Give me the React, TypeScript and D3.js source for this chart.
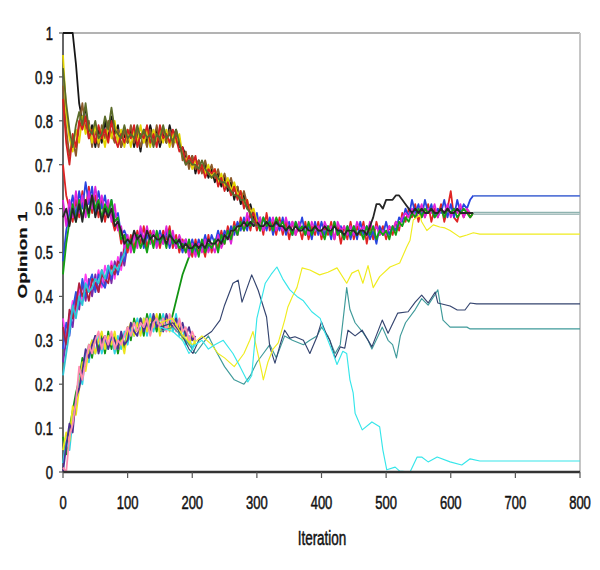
import React from 'react';
import * as d3 from 'd3';

// ---------- axis definitions ----------
const X_TICKS = [0, 100, 200, 300, 400, 500, 600, 700, 800];
const Y_TICKS = [0, 10, 20, 30, 40, 50, 60, 70, 80, 90, 100]; // opinion in percent
const Y_TICK_LABELS = ['0', '0.1', '0.2', '0.3', '0.4', '0.5', '0.6', '0.7', '0.8', '0.9', '1'];
const X_TITLE = 'Iteration';
const Y_TITLE = 'Opinion 1';
const STEP = 5; // iterations between samples in the bundle series

// ---------- top cluster (~0.77), iterations 0..300 ----------
const topT1 = [100,100,100,100,93,84,80,83,76,79,74,78,75,80,76,81,77,79,74,77,75,78,74,77,73,78,75,79,76,78,74,77,75,79,76,78,74,74,72,70,72,68,71,69,70,67,69,66,68,65,67,64,66,62,65,61,63,60,61,58,57];
const topT2 = [88,78,72,76,72,79,84,78,80,74,78,74,79,76,80,77,75,78,74,78,75,79,75,78,74,77,74,78,75,79,75,78,75,78,74,77,76,71,73,69,72,69,71,68,71,68,70,67,69,66,68,65,67,64,65,62,64,61,60,59,57];
const topT3 = [95,82,76,73,78,75,81,77,79,75,79,75,78,74,79,76,80,75,78,74,78,74,78,75,79,75,78,74,78,75,78,75,78,74,77,75,77,72,71,72,69,71,69,70,68,70,67,69,66,68,65,67,64,66,63,64,61,62,59,60,57];
const topT4 = [85,75,70,77,74,80,78,81,76,78,75,79,76,78,75,80,76,74,77,75,78,76,79,74,77,76,79,75,77,74,79,76,77,75,78,76,73,74,70,72,70,72,68,70,67,69,68,69,65,67,64,66,63,65,62,64,60,62,58,59,56];
const topT5 = [92,84,78,74,79,82,79,84,78,77,80,76,77,81,78,83,78,77,76,79,76,77,76,79,76,78,76,77,74,77,76,79,76,77,75,78,75,72,70,71,70,70,69,71,69,68,67,68,67,66,66,65,64,63,63,62,62,60,59,57,56];
const topColors = ['#161616', '#8b5a2b', '#e2d400', '#d42020', '#5b6b2a'];

// ---------- middle cluster (~0.55), iterations 0..635 ----------
const midM1 = [70,63,60,57,62,58,64,60,65,59,63,58,62,57,61,58,55,57,52,54,50,54,51,55,52,56,51,55,52,54,51,55,53,56,51,54,50,53,50,52,49,53,50,52,49,54,50,53,51,55,52,56,53,57,54,58,55,58,55,59,55,58,54,59,55,57,54,58,54,57,53,57,54,56,53,57,53,56,54,57,53,56,54,57,53,56,52,56,53,57,53,56,54,57,52,56,53,57,54,56,53,56,54,57,55,59,57,60,58,61,57,60,58,61,57,60,58,61,57,60,64,58,57,60,58,60,58,59];
const midM2 = [48,55,59,63,58,64,60,66,61,65,59,64,60,63,58,62,58,59,54,55,53,51,54,52,55,51,54,52,55,52,55,52,55,51,54,51,53,50,53,50,53,50,53,51,54,51,54,52,55,52,55,53,56,54,57,55,58,55,59,56,59,55,58,55,58,54,57,55,58,54,57,54,57,55,58,54,56,53,57,54,57,54,56,53,57,54,56,53,56,53,56,53,57,54,56,53,55,52,56,54,57,54,56,55,58,57,60,58,62,59,61,58,62,59,61,58,60,59,62,58,61,58,62,59,61,60,62,63];
const midM3 = [62,56,62,58,64,59,63,58,64,60,65,60,63,59,62,57,61,55,56,51,54,50,54,51,56,53,56,52,55,51,54,52,56,52,55,51,54,52,53,49,52,49,52,50,53,50,52,50,54,51,53,55,52,56,54,57,55,59,56,57,56,58,55,57,56,58,55,57,55,58,55,57,54,57,55,56,54,57,55,56,54,57,55,56,53,57,55,56,54,56,54,57,55,56,54,57,55,56,54,55,54,56,55,57,56,58,59,58,60,58,59,61,58,60,59,61,58,60,59,61,58,60,59,61,58,60,59,59];
const midM4 = [45,52,57,61,57,62,58,61,58,63,60,62,58,61,59,62,57,58,53,54,51,53,50,54,51,53,50,54,51,55,52,54,51,55,52,53,51,52,50,53,50,52,49,53,50,52,51,53,50,54,52,55,53,56,54,57,55,57,56,58,57,55,58,56,57,55,58,56,57,55,56,54,57,55,56,54,57,54,56,55,55,53,56,54,57,54,55,53,56,54,56,54,55,53,56,54,56,53,55,54,55,53,56,54,57,56,58,57,59,58,60,58,60,59,60,58,59,60,58,60,59,60,58,59,60,59,58,59];
const midM5 = [58,60,56,60,57,61,57,62,59,63,58,61,57,60,58,60,56,57,55,52,53,52,55,53,54,52,55,53,54,53,53,54,52,54,53,52,53,51,52,51,51,52,51,52,51,53,52,52,53,52,54,53,55,55,56,56,57,56,57,56,57,56,56,57,56,56,57,56,56,55,56,55,56,55,55,56,55,55,56,55,55,56,55,55,56,55,55,54,55,55,55,54,55,55,54,56,58,61,61,60,62,62,62,63,63,62,61,60,59,60,59,60,59,59,60,59,59,60,59,60,59,59,60,59,59,59,59,59];
const midColors = ['#e02424', '#2844e0', '#e024d8', '#14a014', '#262626'];

// ---------- lower-middle cluster (~0.45), iterations 0..100 ----------
const lowL1 = [25,30,36,33,40,37,43,39,44,40,45,41,46,42,47,43,48,45,50,47,52];
const lowL2 = [35,30,34,39,36,42,39,45,41,44,42,46,42,47,44,48,44,49,46,52,51];
const lowL3 = [28,34,31,37,41,38,44,40,43,45,41,45,43,42,46,44,47,45,49,48,53];
const lowL4 = [33,29,37,35,38,43,40,42,39,44,43,41,45,44,43,47,45,48,47,51,52];
const lowL5 = [22,27,32,38,35,40,38,43,41,42,44,43,46,44,47,45,47,46,48,50,53];
const lowColors = ['#7a2aa8', '#ff3cf0', '#3050e0', '#b02040', '#2ec4d4'];

// ---------- bottom cluster (~0.3), iterations 0..210 ----------
const botB1 = [8,4,10,14,18,21,26,24,29,26,31,28,31,27,32,28,31,27,31,28,33,30,35,32,35,31,36,33,35,32,36,33,35,33,36,39,42,45,47,49,51,50,52];
const botB2 = [2,7,5,12,15,22,20,27,25,30,27,31,27,30,28,31,27,31,28,32,29,33,31,35,32,35,31,36,32,35,32,36,33,35,32,36,31,33,29,31,28,30];
const botB3 = [5,9,7,15,13,19,25,23,28,30,27,30,32,28,31,29,32,28,30,27,32,34,31,34,31,35,32,35,33,36,31,34,35,32,35,33,34,30,32,29,31,29];
const botB4 = [0,6,11,9,17,19,23,28,26,29,31,27,30,31,28,31,30,28,32,29,30,34,32,31,35,32,34,32,36,33,34,32,36,34,33,35,32,34,31,33,30,31];
const botB5 = [1,0,8,11,16,24,21,25,29,27,30,32,28,31,29,32,28,30,29,31,33,31,34,32,34,33,35,31,34,35,33,35,32,36,34,32,35,32,33,30,32,30];
const botColors = ['#129412', '#30d4e4', '#ece41c', '#4a2e92', '#ff8cb0'];

// ---------- individual agents that leave the bottom cluster: [iteration, opinion %] ----------
const navyAgent: [number, number][] = [[150,33],[170,34],[185,31],[195,28],[201,27],[210,30],[220,31],[230,32],[243,34.6],[250,38],[263,43],[271,43.7],[277,38.7],[285,42],[292,44.9],[302,41.4],[315,35.3],[320,28.5],[328,24.8],[336,29],[343,32.3],[351,30.5],[359,30.8],[372,30],[382,27],[393,30.8],[400,34.2],[408,31.2],[413,30],[421,26],[429,28.5],[436,28.2],[441,32.3],[452,31],[463,32.3],[478,28.5],[494,34.6],[503,31.6],[518,36.2],[534,36.5],[545,38.7],[555,40.3],[565,38.5],[576,41],[580,38.5],[599,37.8],[610,36.9],[622,36.9],[630,38.5],[640,38.3],[800,38.3]];
const tealAgent: [number, number][] = [[150,32],[170,33],[190,30],[205,27],[215,29],[225,31],[235,28],[250,24],[265,21],[280,20],[290,22],[300,25],[310,27],[320,29],[330,26],[343,31],[355,30],[372,29],[382,30],[393,31],[400,33],[410,31],[421,27],[429,29],[436,38],[439,42],[444,37],[452,34],[463,32],[472,30],[478,28],[494,33],[503,30],[510,29],[516,26],[522,31],[530,34],[545,37],[555,39.5],[565,38],[576,40.5],[580,41.5],[588,34.6],[599,33],[614,33],[625,33],[630,32.6],[800,32.6]];
const cyanAgent: [number, number][] = [[150,33],[170,32],[185,30],[195,27],[205,29],[215,30],[225,28],[235,29],[248,30],[263,27],[274,24],[286,20.5],[292,22],[297,30],[300,35],[313,43],[322,45],[331,46.7],[340,44],[351,41.5],[362,40],[372,39],[385,36.5],[398,35],[402,33],[410,30],[418,27],[424,24.5],[433,27.5],[439,27],[444,21],[449,18],[452,13.4],[463,9.6],[478,11.4],[490,10.3],[495,5],[501,0.5],[514,1.1],[521,0.2],[537,0],[548,3.4],[555,3.4],[565,2.3],[579,3.4],[599,2.3],[617,1.6],[630,3],[645,2.5],[800,2.5]];
const yellowAgent: [number, number][] = [[150,34],[170,35],[185,31],[200,29],[215,31],[230,29],[240,27],[250,26],[265,24],[280,27],[289,30],[294,32],[300,28],[308,22.5],[310,21],[317,25],[325,28],[333,29.4],[343,34.6],[348,37.6],[355,40],[362,42],[370,46.5],[382,46],[397,44.9],[410,45.5],[424,46.5],[439,43],[447,45.3],[457,46],[464,43],[472,47],[480,42],[490,44.5],[506,46.7],[521,47.6],[532,51.3],[537,52.8],[542,57.4],[552,58.5],[555,57],[563,55],[573,56.3],[583,55.8],[591,55.6],[599,55],[614,53.5],[625,54],[635,54.5],[645,54.2],[800,54.2]];
const soloAgents = [tealAgent, navyAgent, yellowAgent, cyanAgent];
const soloColors = ['#3f9a9a', '#34446f', '#f0ec1e', '#36e6ea'];

// ---------- settled opinions of the middle cluster after it stops moving ----------
const SETTLE_START = 635;
const SETTLE_END = 800;
const settledLevels = [62.9, 59.1, 58.7];
const settledColors = ['#5a78d8', '#8fb3b0', '#a7bfbe'];

const FONT = "'Liberation Sans', Arial, Helvetica, sans-serif";
const STRETCH = 1.45;

export default function App() {
  const width = 600;
  const height = 570;
  const x = d3.scaleLinear().domain([0, 800]).range([63, 580]);
  const y = d3.scaleLinear().domain([0, 100]).range([472, 33]);
  const line = d3.line<[number, number]>().x((d) => x(d[0])).y((d) => y(d[1]));
  const stepSeries = (vals: number[]): [number, number][] => vals.map((v, i) => [i * STEP, v]);

  const bundles: { series: number[][]; colors: string[] }[] = [
    { series: [botB1, botB2, botB3, botB4, botB5], colors: botColors },
    { series: [lowL1, lowL2, lowL3, lowL4, lowL5], colors: lowColors },
    { series: [midM1, midM2, midM3, midM4, midM5], colors: midColors },
    { series: [topT1, topT2, topT3, topT4, topT5], colors: topColors },
  ];

  const textProps = { fontFamily: FONT, fill: '#111', stroke: '#111', strokeWidth: 0.35 };

  return (
    <svg width={width} height={height} style={{ position: 'absolute', left: 0, top: 0, background: '#fff' }}>
      <rect x={0} y={0} width={width} height={height} fill="#fff" />
      {/* plot frame */}
      <line x1={x(0)} x2={x(800)} y1={y(100)} y2={y(100)} stroke="#9a9a9a" strokeWidth={1.5} />
      <line x1={x(800)} x2={x(800)} y1={y(100)} y2={y(0)} stroke="#c6c6c6" strokeWidth={2} />
      <line x1={x(0)} x2={x(0)} y1={y(100)} y2={y(0)} stroke="#333" strokeWidth={1.5} />

      {/* bundles */}
      {bundles.map((b, bi) =>
        b.series.map((s, si) => (
          <path key={`b${bi}-${si}`} d={line(stepSeries(s)) || ''} fill="none" stroke={b.colors[si]} strokeWidth={1.8} strokeLinejoin="round" />
        ))
      )}

      {/* individual agents */}
      {soloAgents.map((s, i) => (
        <path key={`s${i}`} d={line(s) || ''} fill="none" stroke={soloColors[i]} strokeWidth={1.15} strokeLinejoin="round" />
      ))}

      {/* settled levels */}
      {settledLevels.map((v, i) => (
        <path key={`f${i}`} d={line([[SETTLE_START, v], [SETTLE_END, v]]) || ''} fill="none" stroke={settledColors[i]} strokeWidth={1.6} />
      ))}

      {/* x axis */}
      <line x1={x(0)} x2={x(800)} y1={y(0)} y2={y(0)} stroke="#333" strokeWidth={2.5} />
      {X_TICKS.map((t) => (
        <g key={`xt${t}`}>
          <line x1={x(t)} x2={x(t)} y1={y(0)} y2={y(0) + 6} stroke="#555" strokeWidth={1.2} />
          <text transform={`translate(${x(t)},${509}) scale(1,${STRETCH})`} textAnchor="middle" fontSize={13} {...textProps}>
            {t}
          </text>
        </g>
      ))}

      {/* y axis */}
      {Y_TICKS.map((t, i) => (
        <g key={`yt${t}`}>
          <line x1={x(0) - 4} x2={x(0)} y1={y(t)} y2={y(t)} stroke="#555" strokeWidth={1.2} />
          <text transform={`translate(${53},${y(t)}) scale(1,${STRETCH})`} textAnchor="end" dy="0.36em" fontSize={13} {...textProps}>
            {Y_TICK_LABELS[i]}
          </text>
        </g>
      ))}

      {/* titles */}
      <text transform={`translate(322,545) scale(1,${STRETCH})`} textAnchor="middle" fontSize={13.5} {...textProps}>
        {X_TITLE}
      </text>
      <text transform={`translate(22,255) scale(1,${STRETCH}) rotate(-90)`} textAnchor="middle" dy="0.36em" fontWeight="bold" fontSize={13} {...textProps} strokeWidth={0.2}>
        {Y_TITLE}
      </text>
    </svg>
  );
}
